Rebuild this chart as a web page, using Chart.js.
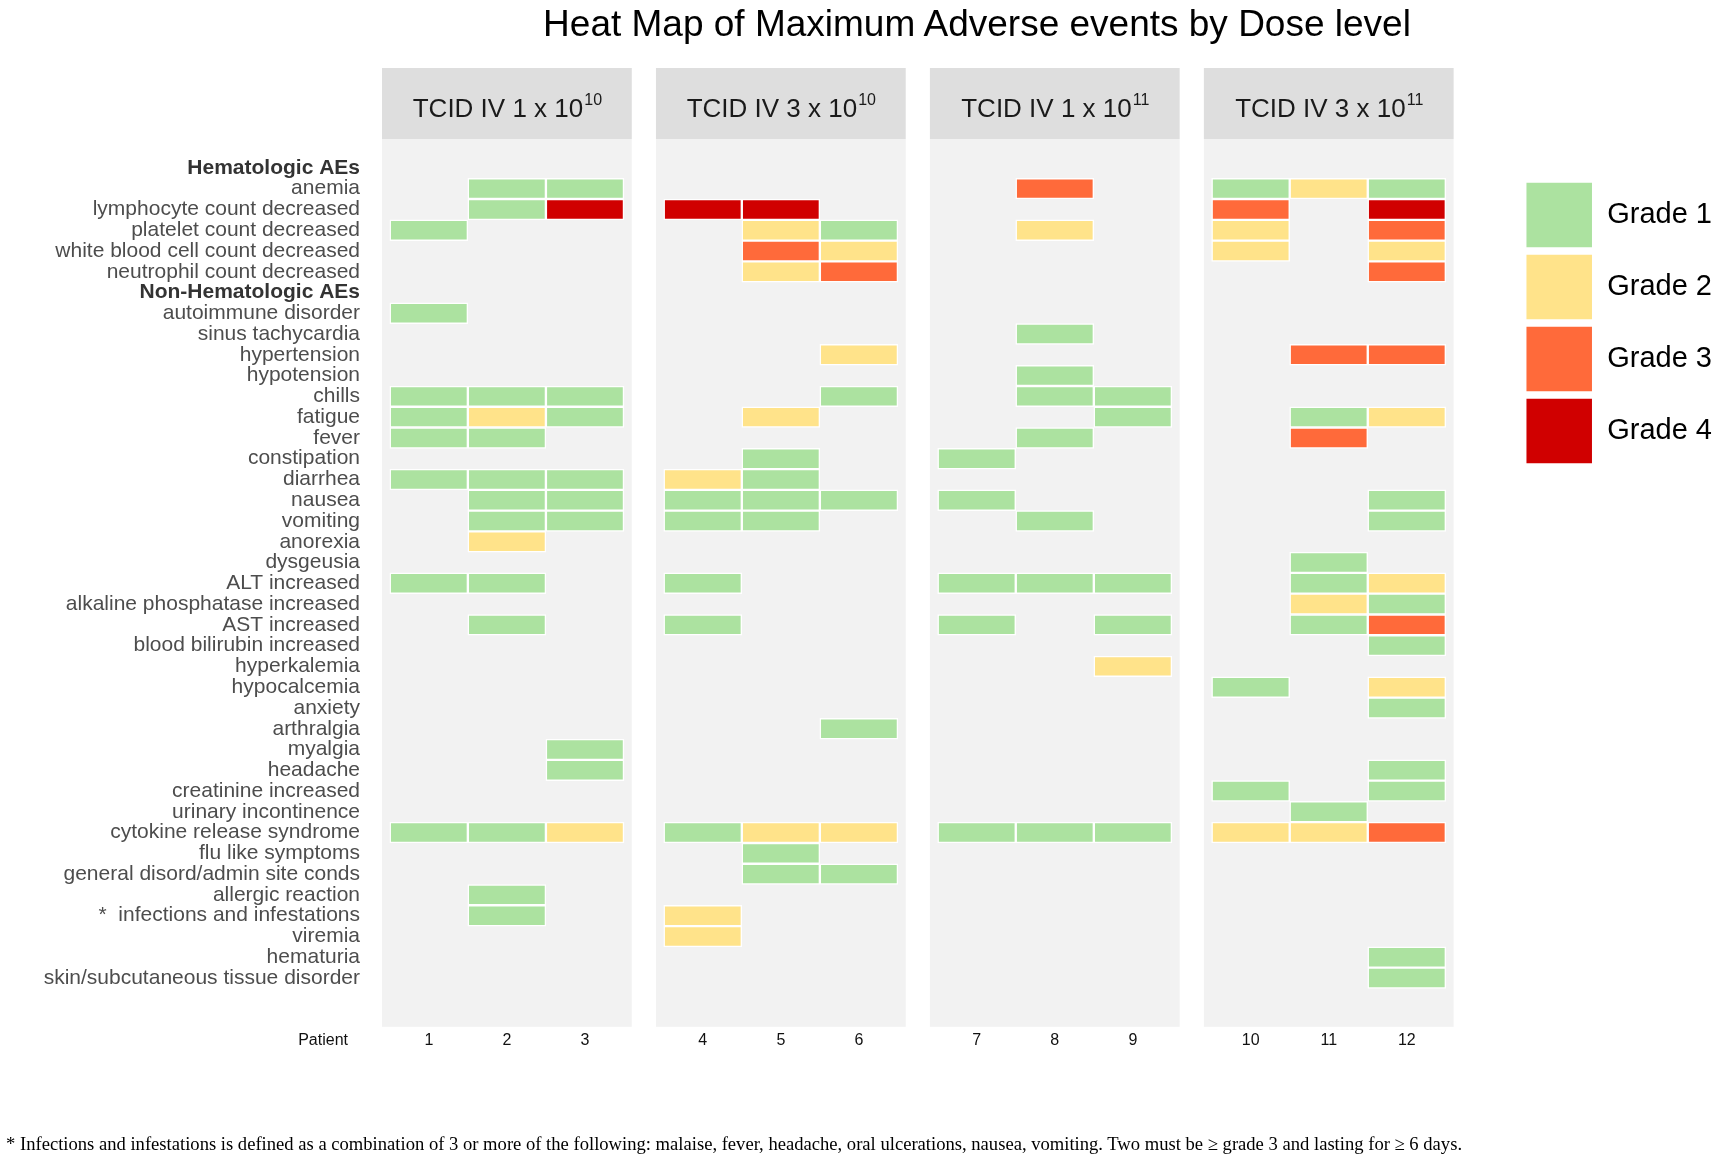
<!DOCTYPE html>
<html lang="en">
<head>
<meta charset="utf-8">
<title>Heat Map of Maximum Adverse events by Dose level</title>
<script src="https://cdn.jsdelivr.net/npm/chart.js@4.4.1/dist/chart.umd.min.js"></script>
<style>
  body { margin: 0; background: #ffffff; }
  #contenedor { position: relative; width: 1725px; height: 1158px; overflow: hidden; font-family: "Liberation Sans", Arial, sans-serif; }
  #grafico { position: absolute; left: 0; top: 0; }
  #titulo { position: absolute; left: 477px; width: 1000px; top: 0; line-height: 48px; font-size: 37px; text-align: center; color: #000; white-space: nowrap; }
  #nota { position: absolute; left: 6px; top: 1133px; line-height: 22px; font-family: "Liberation Serif", "Times New Roman", serif; font-size: 18.6px; color: #000; white-space: nowrap; }
</style>
</head>
<body>
<div id="contenedor">
  <canvas id="grafico" width="1725" height="1158"></canvas>
  <div id="titulo">Heat Map of Maximum Adverse events by Dose level</div>
  <div id="nota">* Infections and infestations is defined as a combination of 3 or more of the following: malaise, fever, headache, oral ulcerations, nausea, vomiting. Two must be &ge; grade 3 and lasting for &ge; 6 days.</div>
</div>
<script>
const etiquetasEventos = [
    'Hematologic AEs',
    'anemia',
    'lymphocyte count decreased',
    'platelet count decreased',
    'white blood cell count decreased',
    'neutrophil count decreased',
    'Non-Hematologic AEs',
    'autoimmune disorder',
    'sinus tachycardia',
    'hypertension',
    'hypotension',
    'chills',
    'fatigue',
    'fever',
    'constipation',
    'diarrhea',
    'nausea',
    'vomiting',
    'anorexia',
    'dysgeusia',
    'ALT increased',
    'alkaline phosphatase increased',
    'AST increased',
    'blood bilirubin increased',
    'hyperkalemia',
    'hypocalcemia',
    'anxiety',
    'arthralgia',
    'myalgia',
    'headache',
    'creatinine increased',
    'urinary incontinence',
    'cytokine release syndrome',
    'flu like symptoms',
    'general disord/admin site conds',
    'allergic reaction',
    '*  infections and infestations',
    'viremia',
    'hematuria',
    'skin/subcutaneous tissue disorder'
]
const encabezados = ['Hematologic AEs', 'Non-Hematologic AEs']
const pacientes = ['1', '2', '3', '4', '5', '6', '7', '8', '9', '10', '11', '12']
const factoresDosis = ['1', '3', '1', '3']
const exponentesDosis = ['10', '10', '11', '11']
const grados = ['Grade 1', 'Grade 2', 'Grade 3', 'Grade 4']
const coloresGrado = ['#ace2a0', '#ffe38a', '#ff6a3a', '#d00000']

// grado maximo de cada evento, por paciente
const paciente1 = [['platelet count decreased', 1], ['autoimmune disorder', 1], ['chills', 1], ['fatigue', 1],
    ['fever', 1], ['diarrhea', 1], ['ALT increased', 1], ['cytokine release syndrome', 1]]
const paciente2 = [['anemia', 1], ['lymphocyte count decreased', 1], ['chills', 1], ['fatigue', 2], ['fever', 1],
    ['diarrhea', 1], ['nausea', 1], ['vomiting', 1], ['anorexia', 2], ['ALT increased', 1], ['AST increased', 1],
    ['cytokine release syndrome', 1], ['allergic reaction', 1], ['*  infections and infestations', 1]]
const paciente3 = [['anemia', 1], ['lymphocyte count decreased', 4], ['chills', 1], ['fatigue', 1], ['diarrhea', 1],
    ['nausea', 1], ['vomiting', 1], ['myalgia', 1], ['headache', 1], ['cytokine release syndrome', 2]]
const paciente4 = [['lymphocyte count decreased', 4], ['diarrhea', 2], ['nausea', 1], ['vomiting', 1], ['ALT increased', 1],
    ['AST increased', 1], ['cytokine release syndrome', 1], ['*  infections and infestations', 2], ['viremia', 2]]
const paciente5 = [['lymphocyte count decreased', 4], ['platelet count decreased', 2], ['white blood cell count decreased', 3],
    ['neutrophil count decreased', 2], ['fatigue', 2], ['constipation', 1], ['diarrhea', 1], ['nausea', 1], ['vomiting', 1],
    ['cytokine release syndrome', 2], ['flu like symptoms', 1], ['general disord/admin site conds', 1]]
const paciente6 = [['platelet count decreased', 1], ['white blood cell count decreased', 2], ['neutrophil count decreased', 3],
    ['hypertension', 2], ['chills', 1], ['nausea', 1], ['arthralgia', 1], ['cytokine release syndrome', 2],
    ['general disord/admin site conds', 1]]
const paciente7 = [['constipation', 1], ['nausea', 1], ['ALT increased', 1], ['AST increased', 1], ['cytokine release syndrome', 1]]
const paciente8 = [['anemia', 3], ['platelet count decreased', 2], ['sinus tachycardia', 1], ['hypotension', 1], ['chills', 1],
    ['fever', 1], ['vomiting', 1], ['ALT increased', 1], ['cytokine release syndrome', 1]]
const paciente9 = [['chills', 1], ['fatigue', 1], ['ALT increased', 1], ['AST increased', 1], ['hyperkalemia', 2],
    ['cytokine release syndrome', 1]]
const paciente10 = [['anemia', 1], ['lymphocyte count decreased', 3], ['platelet count decreased', 2],
    ['white blood cell count decreased', 2], ['hypocalcemia', 1], ['creatinine increased', 1], ['cytokine release syndrome', 2]]
const paciente11 = [['anemia', 2], ['hypertension', 3], ['fatigue', 1], ['fever', 3], ['dysgeusia', 1], ['ALT increased', 1],
    ['alkaline phosphatase increased', 2], ['AST increased', 1], ['urinary incontinence', 1], ['cytokine release syndrome', 2]]
const paciente12 = [['anemia', 1], ['lymphocyte count decreased', 4], ['platelet count decreased', 3],
    ['white blood cell count decreased', 2], ['neutrophil count decreased', 3], ['hypertension', 3], ['fatigue', 2],
    ['nausea', 1], ['vomiting', 1], ['ALT increased', 2], ['alkaline phosphatase increased', 1], ['AST increased', 3],
    ['blood bilirubin increased', 1], ['hypocalcemia', 2], ['anxiety', 1], ['headache', 1], ['creatinine increased', 1],
    ['cytokine release syndrome', 3], ['hematuria', 1], ['skin/subcutaneous tissue disorder', 1]]

const eventosPorPaciente = [paciente1, paciente2, paciente3, paciente4, paciente5, paciente6,
    paciente7, paciente8, paciente9, paciente10, paciente11, paciente12]

// geometria de los paneles en unidades de columna
const margenPanel = 0.6
const pasoPanel = 3.51
const pxPorColumna = 78.05
const fuente = '"Liberation Sans", Arial, sans-serif'

const centroColumna = (p) => Math.floor(p / 3) * pasoPanel + (p % 3)

const celdasPorGrado = grados.map(() => [])
eventosPorPaciente.forEach((eventos, p) => {
    eventos.forEach(([evento, grado]) => {
        const fila = etiquetasEventos.indexOf(evento)
        if (fila < 0) {
            console.error(`Evento desconocido: ${evento}`)
            return
        }
        const c = centroColumna(p)
        celdasPorGrado[grado - 1].push({ x: [c - 0.5, c + 0.5], y: fila })
    })
})

const esEncabezado = (c) => c.tick !== undefined && encabezados.includes(etiquetasEventos[c.tick.value])

const ajustarRangoX = (axis) => {
    axis.min = -margenPanel
    axis.max = -margenPanel + axis.width / pxPorColumna
}

// fondos grises de cada panel y cabecera con la dosis
const pluginPaneles = {
    id: 'paneles',
    beforeDatasetsDraw(chart) {
        const { ctx, chartArea, scales: { x } } = chart
        ctx.save()
        factoresDosis.forEach((factor, k) => {
            const izq = x.getPixelForValue(k * pasoPanel - margenPanel)
            const der = x.getPixelForValue(k * pasoPanel + 2 + margenPanel)
            ctx.fillStyle = '#f2f2f2'
            ctx.fillRect(izq, chartArea.top, der - izq, chartArea.bottom - chartArea.top)
            ctx.fillStyle = '#dedede'
            ctx.fillRect(izq, chartArea.top - 71, der - izq, 71)

            const texto = `TCID IV ${factor} x 10`
            ctx.font = `26px ${fuente}`
            const w1 = ctx.measureText(texto).width
            ctx.font = `16px ${fuente}`
            const w2 = ctx.measureText(exponentesDosis[k]).width
            const inicio = (izq + der) / 2 - (w1 + w2) / 2
            ctx.fillStyle = '#1a1a1a'
            ctx.textBaseline = 'alphabetic'
            ctx.textAlign = 'left'
            ctx.font = `26px ${fuente}`
            ctx.fillText(texto, inicio, chartArea.top - 22)
            ctx.font = `16px ${fuente}`
            ctx.fillText(exponentesDosis[k], inicio + w1 + 1, chartArea.top - 34)
        })
        ctx.restore()
    },
    afterDraw(chart) {
        const { ctx, chartArea, scales: { x } } = chart
        ctx.save()
        ctx.font = `16px ${fuente}`
        ctx.fillStyle = '#111111'
        ctx.textAlign = 'right'
        ctx.textBaseline = 'middle'
        ctx.fillText('Patient', chartArea.left - 34, x.top + 4 + 9.6)
        ctx.restore()
    }
}

const ctx = document.getElementById('grafico')

const data = {
    datasets: grados.map((g, i) => ({
        label: g,
        data: celdasPorGrado[i],
        backgroundColor: coloresGrado[i],
        borderColor: '#ffffff',
        borderWidth: 1.5,
        borderSkipped: false,
        grouped: false,
        categoryPercentage: 1,
        barPercentage: 1
    }))
}

const config = {
    type: 'bar',
    data: data,
    plugins: [pluginPaneles],
    options: {
        indexAxis: 'y',
        responsive: false,
        animation: false,
        layout: {
            padding: { top: 139, bottom: 104, left: 0, right: 3 }
        },
        plugins: {
            title: { display: false },
            tooltip: { enabled: false },
            legend: {
                position: 'right',
                align: 'start',
                title: {
                    display: true,
                    text: '',
                    font: { size: 10 },
                    padding: { top: 25, bottom: 0 }
                },
                labels: {
                    boxWidth: 67,
                    boxHeight: 66,
                    padding: 6,
                    color: '#000000',
                    font: { size: 29, family: fuente }
                }
            }
        },
        scales: {
            x: {
                type: 'linear',
                bounds: 'data',
                offset: false,
                afterSetDimensions: ajustarRangoX,
                afterDataLimits: ajustarRangoX,
                afterBuildTicks: (axis) => {
                    axis.ticks = pacientes.map((_, p) => ({ value: centroColumna(p) }))
                },
                grid: { display: false, drawTicks: false, offset: false },
                border: { display: false },
                ticks: {
                    autoSkip: false,
                    maxRotation: 0,
                    padding: 4,
                    color: '#111111',
                    font: { size: 16, family: fuente },
                    callback: (value, index) => pacientes[index]
                }
            },
            y: {
                type: 'linear',
                reverse: true,
                bounds: 'data',
                offset: false,
                min: -1.39,
                max: 41.35,
                afterBuildTicks: (axis) => {
                    axis.ticks = etiquetasEventos.map((_, i) => ({ value: i }))
                },
                afterFit: (axis) => {
                    axis.width = 382
                },
                grid: { display: false, drawTicks: false, offset: false },
                border: { display: false },
                ticks: {
                    autoSkip: false,
                    padding: 22,
                    color: (c) => esEncabezado(c) ? '#333333' : '#4d4d4d',
                    font: (c) => ({
                        size: 21,
                        family: fuente,
                        weight: esEncabezado(c) ? 'bold' : 'normal'
                    }),
                    callback: (value) => etiquetasEventos[value]
                }
            }
        }
    }
}

const miGrafico = new Chart(ctx, config)
</script>
</body>
</html>
